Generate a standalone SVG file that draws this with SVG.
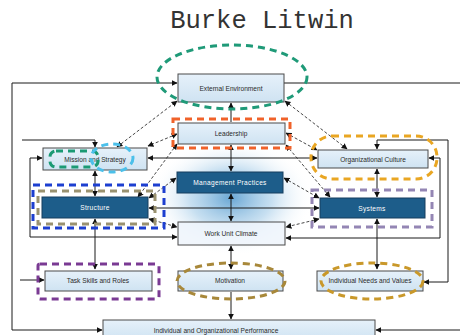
<svg xmlns="http://www.w3.org/2000/svg" width="460" height="335" viewBox="0 0 460 335">
  <style>
    .box { fill: url(#lightFill); stroke: #4a4a4a; stroke-width: 1; }
    .dark { fill: #1d5d8a; stroke: #173f5e; stroke-width: 1; }
    .lbl { font-family: "Liberation Sans", Arial, sans-serif; font-size: 6.6px; fill: #2a2a2a; text-anchor: middle; }
    .lblw { font-family: "Liberation Sans", Arial, sans-serif; font-size: 6.6px; fill: #ffffff; text-anchor: middle; letter-spacing: 0.3px; }
    .ln { fill: none; stroke: #1a1a1a; stroke-width: 1; }
    .dl { fill: none; stroke: #333; stroke-width: 0.9; stroke-dasharray: 3 2; }
    .hl { fill: none; stroke-width: 3; stroke-dasharray: 7 5; }
  </style>
  <defs>
    <marker id="ah" viewBox="0 0 10 10" refX="9" refY="5" markerWidth="6" markerHeight="6" markerUnits="userSpaceOnUse" orient="auto-start-reverse">
      <path d="M0,0 L10,5 L0,10 z" fill="#111"/>
    </marker>
    <linearGradient id="lightFill" x1="0" y1="0" x2="0" y2="1">
      <stop offset="0" stop-color="#e6f1fa"/>
      <stop offset="1" stop-color="#cfe3f2"/>
    </linearGradient>
    <radialGradient id="glow" cx="0.5" cy="0.5" r="0.5">
      <stop offset="0" stop-color="#4f97cc" stop-opacity="0.85"/>
      <stop offset="0.5" stop-color="#8fc0e3" stop-opacity="0.5"/>
      <stop offset="1" stop-color="#ffffff" stop-opacity="0"/>
    </radialGradient>
  </defs>

  <rect width="460" height="335" fill="#ffffff"/>

  <text x="262" y="28" font-family="'Liberation Mono', 'Courier New', monospace" font-size="25.5" fill="#333" text-anchor="middle">Burke Litwin</text>

  <!-- soft light behind the central column -->
  <ellipse cx="231" cy="198" rx="82" ry="58" fill="url(#glow)"/>

  <g id="connectors">
    <!-- outer feedback frame -->
    <path class="ln" d="M177,83 L12,83 L12,330 L102,330" marker-start="url(#ah)" marker-end="url(#ah)"/>
    <path class="ln" d="M284,83 L460,83"/>
    <path class="ln" d="M460,330 L376,330" marker-end="url(#ah)"/>
    <!-- central column -->
    <path class="ln" d="M231,122 L231,103" marker-end="url(#ah)"/>
    <path class="ln" d="M231,145 L231,171" marker-start="url(#ah)" marker-end="url(#ah)"/>
    <path class="ln" d="M231,194 L231,221" marker-start="url(#ah)" marker-end="url(#ah)"/>
    <path class="ln" d="M231,246 L231,269" marker-start="url(#ah)" marker-end="url(#ah)"/>
    <path class="ln" d="M231,292 L231,319" marker-end="url(#ah)"/>
    <!-- left column -->
    <path class="ln" d="M22,140 L95,140 L95,147" marker-end="url(#ah)"/>
    <path class="ln" d="M95,171 L95,196" marker-start="url(#ah)" marker-end="url(#ah)"/>
    <path class="ln" d="M95,219 L95,269" marker-start="url(#ah)" marker-end="url(#ah)"/>
    <path class="ln" d="M42,158 L30,158 L30,237 L177,237" marker-start="url(#ah)" marker-end="url(#ah)"/>
    <path class="ln" d="M20,280 L44,280" marker-end="url(#ah)"/>
    <!-- right column -->
    <path class="ln" d="M377,149 L377,140 L448,140 L448,282 L424,282" marker-start="url(#ah)" marker-end="url(#ah)"/>
    <path class="ln" d="M377,169 L377,197" marker-start="url(#ah)" marker-end="url(#ah)"/>
    <path class="ln" d="M377,219 L377,269" marker-start="url(#ah)" marker-end="url(#ah)"/>
    <path class="ln" d="M429,158 L440,158 L440,238 L286,238" marker-start="url(#ah)" marker-end="url(#ah)"/>
    <!-- horizontals -->
    <path class="ln" d="M148,158 L317,158" marker-start="url(#ah)" marker-end="url(#ah)"/>
    <path class="ln" d="M149,208 L319,208" marker-start="url(#ah)" marker-end="url(#ah)"/>
    <!-- dashed diagonals -->
    <path class="dl" d="M117,147 L177,101" marker-start="url(#ah)" marker-end="url(#ah)"/>
    <path class="dl" d="M285,101 L347,149" marker-start="url(#ah)" marker-end="url(#ah)"/>
    <path class="dl" d="M177,134 L148,146" marker-start="url(#ah)" marker-end="url(#ah)"/>
    <path class="dl" d="M177,144 L138,197" marker-start="url(#ah)" marker-end="url(#ah)"/>
    <path class="dl" d="M286,133 L317,150" marker-start="url(#ah)" marker-end="url(#ah)"/>
    <path class="dl" d="M286,145 L330,197" marker-start="url(#ah)" marker-end="url(#ah)"/>
    <path class="dl" d="M176,178 L149,198" marker-start="url(#ah)" marker-end="url(#ah)"/>
    <path class="dl" d="M284,178 L319,198" marker-start="url(#ah)" marker-end="url(#ah)"/>
    <path class="dl" d="M149,219 L177,227" marker-start="url(#ah)" marker-end="url(#ah)"/>
    <path class="dl" d="M319,219 L286,227" marker-start="url(#ah)" marker-end="url(#ah)"/>
  </g>

  <g id="external-environment">
    <rect class="box" x="178" y="74" width="106" height="28"/>
    <text class="lbl" x="231" y="90.5">External Environment</text>
    <ellipse class="hl" cx="232" cy="77" rx="75" ry="32" stroke="#1f9a78"/>
  </g>

  <g id="leadership">
    <rect class="box" x="178" y="123" width="107" height="21"/>
    <text class="lbl" x="231" y="136">Leadership</text>
    <rect class="hl" x="173" y="119" width="117" height="29" stroke="#f0622a"/>
  </g>

  <g id="mission-strategy">
    <rect class="box" x="43" y="148" width="104" height="22"/>
    <text class="lbl" x="95" y="161.5">Mission and Strategy</text>
    <rect class="hl" x="50" y="151" width="48" height="16" rx="6" stroke="#1b9a74"/>
    <ellipse class="hl" cx="112" cy="158" rx="21" ry="14" stroke="#4cc0ea"/>
  </g>

  <g id="organizational-culture">
    <rect class="box" x="318" y="150" width="110" height="18"/>
    <text class="lbl" x="373" y="161.5">Organizational Culture</text>
    <rect class="hl" x="311" y="136" width="126" height="43" rx="21" stroke="#e9a623"/>
  </g>

  <g id="management-practices">
    <rect class="dark" x="177" y="172" width="106" height="21"/>
    <text class="lblw" x="230" y="185">Management Practices</text>
  </g>

  <g id="structure">
    <rect class="dark" x="42" y="197" width="106" height="21"/>
    <text class="lblw" x="95" y="210">Structure</text>
    <rect class="hl" x="38" y="191" width="117" height="33" stroke="#9a9270" stroke-width="2"/>
    <rect class="hl" x="33" y="185" width="131" height="43" stroke="#1d3fd0"/>
  </g>

  <g id="systems">
    <rect class="dark" x="320" y="198" width="105" height="20"/>
    <text class="lblw" x="372" y="210.5">Systems</text>
    <rect class="hl" x="312" y="190" width="120" height="37" stroke="#9486b4"/>
  </g>

  <g id="work-unit-climate">
    <rect x="178" y="222" width="107" height="23" fill="#eef5fb" fill-opacity="0.85" stroke="#4a4a4a" stroke-width="1"/>
    <text class="lbl" x="231" y="235.5">Work Unit Climate</text>
  </g>

  <g id="task-skills">
    <rect class="box" x="45" y="271" width="107" height="20"/>
    <text class="lbl" x="98" y="283">Task Skills and Roles</text>
    <rect class="hl" x="38" y="264" width="121" height="35" rx="2" stroke="#7a3a93"/>
  </g>

  <g id="motivation">
    <rect class="box" x="178" y="271" width="105" height="20"/>
    <text class="lbl" x="230" y="283">Motivation</text>
    <ellipse class="hl" cx="231" cy="281" rx="54" ry="18" stroke="#a8883a"/>
  </g>

  <g id="individual-needs">
    <rect class="box" x="317" y="271" width="106" height="20"/>
    <text class="lbl" x="370" y="283">Individual Needs and Values</text>
    <ellipse class="hl" cx="372" cy="281" rx="51" ry="18" stroke="#c9982a"/>
  </g>

  <g id="performance">
    <rect class="box" x="103" y="320" width="272" height="20"/>
    <text class="lbl" x="216" y="333">Individual and Organizational Performance</text>
  </g>
</svg>
